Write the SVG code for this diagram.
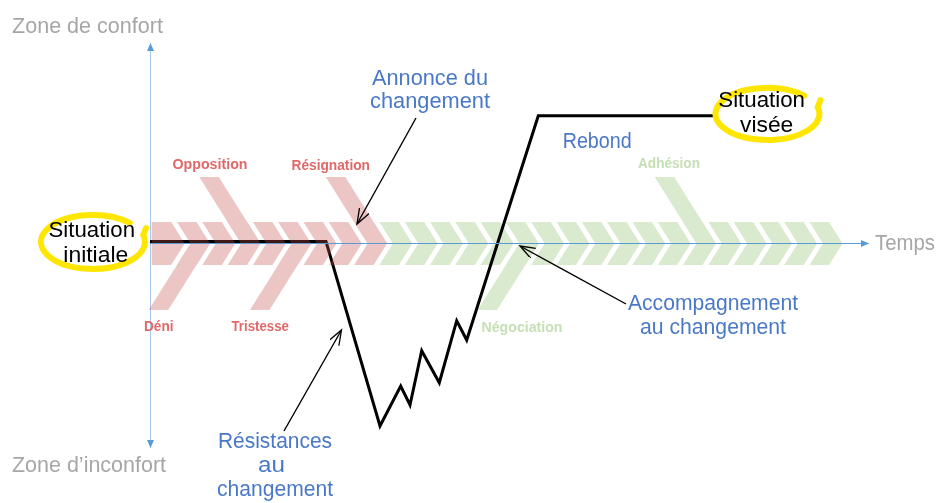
<svg xmlns="http://www.w3.org/2000/svg" xmlns:xlink="http://www.w3.org/1999/xlink" width="938" height="503" viewBox="0 0 938 503">
<style>
.zone{font-family:"Liberation Sans",Arial,sans-serif;font-size:22px;fill:#a6a6a6}
.blue{font-family:"Liberation Sans",Arial,sans-serif;font-size:22px;fill:#4a78c8}
.blk{font-family:"Liberation Sans",Arial,sans-serif;font-size:22px;fill:#000}
.stR{font-family:"Liberation Sans",Arial,sans-serif;font-size:14.5px;font-weight:bold;fill:#e06868}
.stG{font-family:"Liberation Sans",Arial,sans-serif;font-size:14.5px;font-weight:bold;fill:#c5e0b4}
.ptr{fill:none;stroke:#000;stroke-width:1.4}
.hl{fill:none;stroke:#ffe600;stroke-width:6;stroke-linecap:round}
</style>
<defs>
<path id="chev" d="M0,222 H19.5 L33,243.5 L19.5,265 H0 L13.5,243.5 Z"/>
<path id="chev0" d="M0,222 H19.5 L33,243.5 L19.5,265 H0 Z"/>
<path id="armUp" d="M-28.3,177 H-8.8 L33,243.5 H13.5 Z"/>
<path id="armDn" d="M13.5,243.5 H33 L-8.8,310 H-28.3 Z"/>
<marker id="open" markerUnits="userSpaceOnUse" markerWidth="18" markerHeight="14" refX="15" refY="5.5" orient="auto">
<path d="M0,0 L15,5.5 L0,11" fill="none" stroke="#000" stroke-width="1.3"/>
</marker>
<marker id="ax" markerUnits="userSpaceOnUse" markerWidth="10" markerHeight="8" refX="8" refY="3.5" orient="auto">
<path d="M0,0 L8,3.5 L0,7 Z" fill="#5b9bd5"/>
</marker>
</defs>

<g id="axes">
<line x1="150.5" y1="446" x2="150.5" y2="43" stroke="#a9c9ea" stroke-width="1" marker-end="url(#ax)"/>
<line x1="150.5" y1="300" x2="150.5" y2="448" stroke="#a9c9ea" stroke-width="1" marker-end="url(#ax)"/>
</g>

<g id="phase-verte" fill="#70ad47" opacity="0.26">
<use xlink:href="#chev" x="379.4"/><use xlink:href="#chev" x="404.7"/><use xlink:href="#chev" x="430"/>
<use xlink:href="#chev" x="455.3"/><use xlink:href="#chev" x="480.6"/><use xlink:href="#chev" x="505.9"/>
<use xlink:href="#chev" x="531.2"/><use xlink:href="#chev" x="556.5"/><use xlink:href="#chev" x="581.8"/>
<use xlink:href="#chev" x="607.1"/><use xlink:href="#chev" x="632.4"/><use xlink:href="#chev" x="657.7"/>
<use xlink:href="#chev" x="683"/><use xlink:href="#chev" x="708.3"/><use xlink:href="#chev" x="733.6"/>
<use xlink:href="#chev" x="758.9"/><use xlink:href="#chev" x="784.2"/><use xlink:href="#chev" x="809.5"/>
<use xlink:href="#armDn" x="505.9"/>
<use xlink:href="#armUp" x="683"/>
</g>

<g id="courbe">
<path d="M150,241.5 H326 L380,426 L400.7,386 L410,405 L421.7,350.7 L439.3,382.7 L456.7,320.7 L466.7,340 L538.3,115.7 H714" fill="none" stroke="#000" stroke-width="3" stroke-linejoin="miter"/>
</g>

<g id="phase-rouge" fill="#c0504d" opacity="0.32">
<use xlink:href="#chev0" x="151.7"/><use xlink:href="#chev" x="177"/><use xlink:href="#chev" x="202.3"/>
<use xlink:href="#chev" x="227.6"/><use xlink:href="#chev" x="252.9"/><use xlink:href="#chev" x="278.2"/>
<use xlink:href="#chev" x="303.5"/><use xlink:href="#chev" x="328.8"/><use xlink:href="#chev" x="354.1"/>
<use xlink:href="#armDn" x="177"/>
<use xlink:href="#armUp" x="227.6"/>
<use xlink:href="#armDn" x="278.2"/>
<use xlink:href="#armUp" x="354.1"/>
</g>

<g id="axe-temps">
<line x1="150" y1="243.5" x2="869" y2="243.5" stroke="#5b9bd5" stroke-width="1" marker-end="url(#ax)"/>
</g>

<g id="labels-phases">
<text class="stR" x="172.5" y="169" textLength="75" lengthAdjust="spacingAndGlyphs">Opposition</text>
<text class="stR" x="291.5" y="170" textLength="78.5" lengthAdjust="spacingAndGlyphs">Résignation</text>
<text class="stR" x="144" y="330.5" textLength="29.5" lengthAdjust="spacingAndGlyphs">Déni</text>
<text class="stR" x="231.5" y="330.5" textLength="57.5" lengthAdjust="spacingAndGlyphs">Tristesse</text>
<text class="stG" x="481.5" y="331.5" textLength="81" lengthAdjust="spacingAndGlyphs">Négociation</text>
<text class="stG" x="638" y="167.5" textLength="62" lengthAdjust="spacingAndGlyphs">Adhésion</text>
</g>

<g id="zone-confort"><text class="zone" x="12" y="33" textLength="151" lengthAdjust="spacingAndGlyphs">Zone de confort</text></g>
<g id="zone-inconfort"><text class="zone" x="12" y="472" textLength="154" lengthAdjust="spacingAndGlyphs">Zone d’inconfort</text></g>
<g id="temps"><text class="zone" x="875" y="250" textLength="60" lengthAdjust="spacingAndGlyphs">Temps</text></g>

<g id="situation-initiale">
<path class="hl" d="M129.8,222.9 A52,27 0 1 0 143.2,235 L146,228"/>
<text class="blk" x="48.5" y="237.3" textLength="86.5" lengthAdjust="spacingAndGlyphs">Situation</text>
<text class="blk" x="63.3" y="261.7" textLength="65" lengthAdjust="spacingAndGlyphs">initiale</text>
</g>

<g id="situation-visee">
<path class="hl" d="M804.3,95.6 A52,26 0 1 0 817.7,107.3 L820.5,100"/>
<text class="blk" x="718.3" y="107.3" textLength="86.7" lengthAdjust="spacingAndGlyphs">Situation</text>
<text class="blk" x="740" y="132.3" textLength="53.3" lengthAdjust="spacingAndGlyphs">visée</text>
</g>

<g id="annonce">
<text class="blue" x="372" y="85" textLength="116" lengthAdjust="spacingAndGlyphs">Annonce du</text>
<text class="blue" x="370" y="108" textLength="120" lengthAdjust="spacingAndGlyphs">changement</text>
</g>

<g id="rebond"><text class="blue" x="562.7" y="147.7" textLength="69" lengthAdjust="spacingAndGlyphs">Rebond</text></g>

<g id="accompagnement">
<text class="blue" x="628" y="309.5" textLength="170" lengthAdjust="spacingAndGlyphs">Accompagnement</text>
<text class="blue" x="640" y="333.5" textLength="146" lengthAdjust="spacingAndGlyphs">au changement</text>
</g>

<g id="resistances">
<text class="blue" x="218" y="447.5" textLength="114" lengthAdjust="spacingAndGlyphs">Résistances</text>
<text class="blue" x="258" y="472" textLength="27" lengthAdjust="spacingAndGlyphs">au</text>
<text class="blue" x="217" y="496" textLength="116" lengthAdjust="spacingAndGlyphs">changement</text>
</g>

<g id="connecteurs">
<path class="ptr" d="M416,118 L357,224" marker-end="url(#open)"/>
<path class="ptr" d="M284,431 L341.5,330" marker-end="url(#open)"/>
<path class="ptr" d="M626,304 L520,246" marker-end="url(#open)"/>
</g>
</svg>
